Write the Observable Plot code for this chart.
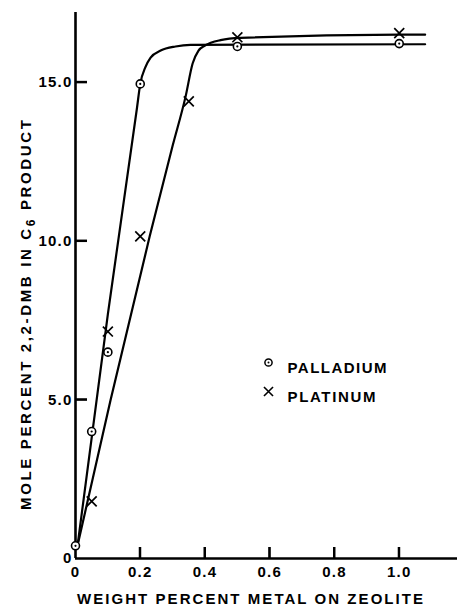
<!DOCTYPE html>
<html><head><meta charset="utf-8">
<script src="https://cdn.jsdelivr.net/npm/d3@7"></script>
<script src="https://cdn.jsdelivr.net/npm/@observablehq/plot@0.6"></script>
<style>
body{margin:0;background:#fff}
#chart svg{display:block;font-family:"Liberation Sans",Arial,sans-serif;font-weight:bold}
</style></head><body><div id="chart"></div>
<script>
// measured points
const palladiumX = [0, 0.05, 0.1, 0.2, 0.5, 1.0];
const palladiumY = [0.4, 4.0, 6.5, 14.95, 16.13, 16.22];
const platinumX = [0.05, 0.1, 0.2, 0.35, 0.5, 1.0];
const platinumY = [1.8, 7.15, 10.15, 14.4, 16.42, 16.55];
// hand-drawn curves
const pdCurveX = [0.005, 0.1, 0.19, 0.2, 0.216, 0.232, 0.263, 0.309, 0.355, 1.08];
const pdCurveY = [0.3, 7.7, 14.2, 14.95, 15.48, 15.78, 16.0, 16.13, 16.18, 16.2];
const ptCurveX = [0.005, 0.108, 0.229, 0.3, 0.34, 0.362, 0.38, 0.40, 0.448, 0.51, 1.0, 1.08];
const ptCurveY = [0.35, 4.98, 10.14, 13.0, 14.55, 15.6, 16.0, 16.16, 16.33, 16.4, 16.5, 16.5];
// ticks
const xTickVals = [0.2, 0.4, 0.6, 0.8, 1.0];
const xLabelVals = [0, 0.2, 0.4, 0.6, 0.8, 1.0];
const xLabelText = ["0", "0.2", "0.4", "0.6", "0.8", "1.0"];
const yTickVals = [5, 10, 15];
const yLabelVals = [0, 5, 10, 15];
const yLabelText = ["0", "5.0", "10.0", "15.0"];
const seriesNames = ["PALLADIUM", "PLATINUM"];
const xTitle = "WEIGHT PERCENT METAL ON ZEOLITE";
const yTitleA = "MOLE PERCENT 2,2-DMB IN C";
const yTitleSub = "6";
const yTitleB = " PRODUCT";

const pd = palladiumX.map((x, i) => ({x, y: palladiumY[i]}));
const pt = platinumX.map((x, i) => ({x, y: platinumY[i]}));
const pdC = pdCurveX.map((x, i) => ({x, y: pdCurveY[i]}));
const ptC = ptCurveX.map((x, i) => ({x, y: ptCurveY[i]}));

const W = 459, H = 615, ML = 75, MR = 2, MT = 12, MB = 57;
const xDomain = [0, 1.18], yDomain = [0, 17.2];
const tickLen = 11;
// tick length expressed in data units so the rules go through the scales
const xTickSpan = tickLen * (yDomain[1] - yDomain[0]) / (H - MT - MB);
const yTickSpan = (tickLen + 1) * (xDomain[1] - xDomain[0]) / (W - ML - MR);

const chart = Plot.plot({
  width: W, height: H,
  marginLeft: ML, marginRight: MR, marginTop: MT, marginBottom: MB,
  x: {domain: xDomain, ticks: xLabelVals, tickSize: 0, tickPadding: 8, tickFormat: d => xLabelText[xLabelVals.indexOf(d)], label: null},
  y: {domain: yDomain, ticks: yLabelVals, tickSize: 0, tickPadding: 3, tickFormat: d => yLabelText[yLabelVals.indexOf(d)], label: null},
  style: {fontFamily: "Liberation Sans, Arial, sans-serif", fontWeight: "bold", fontSize: "15px", color: "black", background: "white"},
  marks: [
    Plot.ruleX([0], {strokeWidth: 2.6}),
    Plot.ruleY([0], {strokeWidth: 2.6}),
    // inward tick marks
    Plot.ruleX(xTickVals, {x: d => d, y1: 0, y2: xTickSpan, stroke: "black", strokeWidth: 2}),
    Plot.ruleY(yTickVals, {y: d => d, x1: 0, x2: yTickSpan, stroke: "black", strokeWidth: 2}),
    Plot.line(pdC, {x: "x", y: "y", curve: "monotone-x", strokeWidth: 2.2, stroke: "black"}),
    Plot.line(ptC, {x: "x", y: "y", curve: "monotone-x", strokeWidth: 2.2, stroke: "black"}),
    Plot.dot(pd, {x: "x", y: "y", r: 4, fill: "white", stroke: "black", strokeWidth: 1.6}),
    Plot.dot(pd, {x: "x", y: "y", r: 1.1, fill: "black"}),
    Plot.dot(pt, {x: "x", y: "y", symbol: "times", r: 4.6, stroke: "black", strokeWidth: 1.7}),
    // legend
    Plot.dot([seriesNames[0]], {frameAnchor: "top-left", dx: 193, dy: 350, r: 3.6, fill: "white", stroke: "black", strokeWidth: 1.5}),
    Plot.dot([seriesNames[0]], {frameAnchor: "top-left", dx: 193, dy: 350, r: 1, fill: "black"}),
    Plot.dot([seriesNames[1]], {frameAnchor: "top-left", dx: 193, dy: 379, symbol: "times", r: 4.2, stroke: "black", strokeWidth: 1.6}),
    Plot.text([seriesNames[0]], {frameAnchor: "top-left", dx: 212, dy: 350, text: d => d, textAnchor: "start", fontSize: 15, fontWeight: "bold"}),
    Plot.text([seriesNames[1]], {frameAnchor: "top-left", dx: 212, dy: 379, text: d => d, textAnchor: "start", fontSize: 15, fontWeight: "bold"})
  ]
});
document.getElementById("chart").appendChild(chart);

const svg = d3.select(chart);
// same ticks again through Plot's own scales, drawn on top with inline style
const xs = chart.scale("x"), ys = chart.scale("y");
const x0 = xs.apply(0), y0 = ys.apply(0);
const tickG = svg.append("g").attr("style", "stroke:#000;stroke-width:2px");
xTickVals.forEach(v => {
  const px = xs.apply(v);
  tickG.append("line").attr("x1", px).attr("x2", px).attr("y1", y0).attr("y2", y0 - tickLen).attr("style", "stroke:#000;stroke-width:2px");
});
yTickVals.forEach(v => {
  const py = ys.apply(v);
  tickG.append("line").attr("x1", x0).attr("x2", x0 + tickLen + 1).attr("y1", py).attr("y2", py).attr("style", "stroke:#000;stroke-width:2px");
});

svg.selectAll("g[aria-label='x-axis tick label'] text, g[aria-label='y-axis tick label'] text").attr("letter-spacing", 1.2);

svg.selectAll("text").filter(function(){return this.textContent === seriesNames[0];}).attr("textLength", 99).attr("lengthAdjust", "spacing");
svg.selectAll("text").filter(function(){return this.textContent === seriesNames[1];}).attr("textLength", 88).attr("lengthAdjust", "spacing");

svg.append("text")
  .attr("x", 250).attr("y", 600)
  .attr("text-anchor", "middle").attr("dominant-baseline", "middle")
  .attr("font-size", 15).attr("font-weight", "bold")
  .attr("textLength", 346).attr("lengthAdjust", "spacing")
  .text(xTitle);

const yt = svg.append("text")
  .attr("transform", "translate(27,315) rotate(-90)")
  .attr("text-anchor", "middle").attr("dominant-baseline", "middle")
  .attr("font-size", 15).attr("font-weight", "bold")
  .attr("textLength", 390).attr("lengthAdjust", "spacing");
yt.append("tspan").text(yTitleA);
yt.append("tspan").attr("dy", 5).attr("font-size", 12).text(yTitleSub);
yt.append("tspan").attr("dy", -5).text(yTitleB);
</script></body></html>
